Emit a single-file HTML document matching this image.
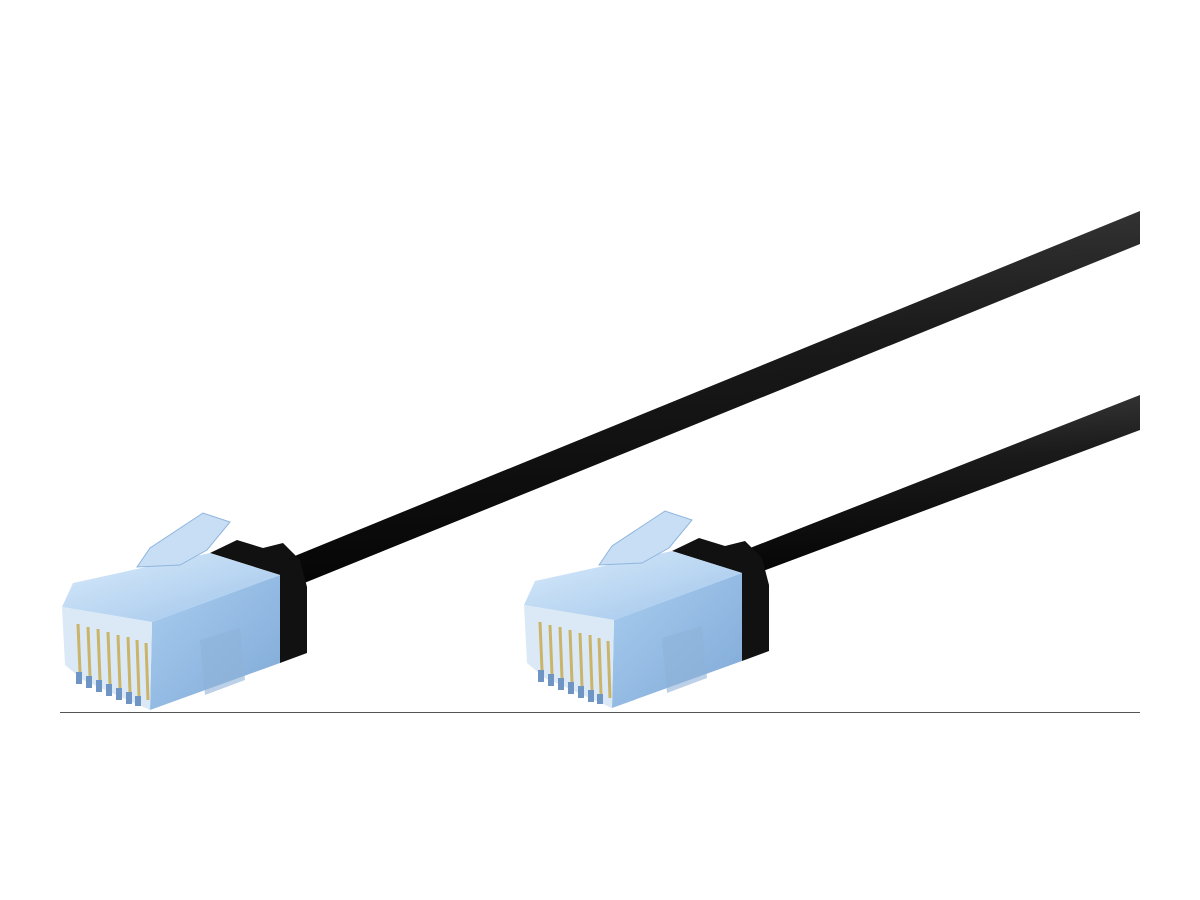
<!DOCTYPE html>
<html><head><meta charset="utf-8"><style>html,body{margin:0;padding:0;background:#fff}svg{display:block}</style></head>
<body>
<svg width="1200" height="900" viewBox="0 0 1200 900" xmlns="http://www.w3.org/2000/svg">
<defs>
<linearGradient id="cab" x1="0" y1="0" x2="0.1" y2="1">
<stop offset="0" stop-color="#3a3a3a"/><stop offset="0.4" stop-color="#1a1a1a"/><stop offset="1" stop-color="#050505"/></linearGradient>
<linearGradient id="side" x1="0" y1="0" x2="1" y2="1">
<stop offset="0" stop-color="#a9cdf0"/><stop offset="1" stop-color="#7fa9d6"/></linearGradient>
<linearGradient id="top" x1="0" y1="0" x2="1" y2="1">
<stop offset="0" stop-color="#d9ebfb"/><stop offset="1" stop-color="#9fc4ea"/></linearGradient>
<g id="con">
<polygon points="210,553 237,540 263,548 283,543 300,560 307,587 307,653 280,663 280,575" fill="#111"/>
<polygon points="152,622 280,575 280,663 150,710" fill="url(#side)"/>
<polygon points="62,607 73,583 210,553 280,575 152,622" fill="url(#top)"/>
<polygon points="62,607 152,622 150,710 83,680 65,665" fill="#dbe9f6"/>
<polygon points="137,567 150,548 203,513 230,522 207,550 180,565" fill="#c7def4" stroke="#8fb5de" stroke-width="1"/>
<polygon points="200,640 240,628 245,680 205,695" fill="#8fb2d8" opacity="0.6"/>
<g stroke-width="3">
<line x1="78" y1="624" x2="80" y2="672" stroke="#c9b46a"/>
<line x1="88" y1="627" x2="90" y2="676" stroke="#c9b46a"/>
<line x1="98" y1="629" x2="100" y2="680" stroke="#c9b46a"/>
<line x1="108" y1="632" x2="110" y2="684" stroke="#c9b46a"/>
<line x1="118" y1="635" x2="120" y2="688" stroke="#c9b46a"/>
<line x1="128" y1="637" x2="130" y2="692" stroke="#c9b46a"/>
<line x1="137" y1="640" x2="139" y2="696" stroke="#c9b46a"/>
<line x1="146" y1="643" x2="148" y2="700" stroke="#c9b46a"/>
</g>
<g fill="#6f95c4">
<rect x="76" y="672" width="6" height="12"/><rect x="86" y="676" width="6" height="12"/><rect x="96" y="680" width="6" height="12"/><rect x="106" y="684" width="6" height="12"/><rect x="116" y="688" width="6" height="12"/><rect x="126" y="692" width="6" height="12"/><rect x="135" y="696" width="6" height="10"/>
</g>
</g>
</defs>
<polygon points="280,562 1140,211 1140,244 292,588" fill="url(#cab)"/>
<polygon points="745,550 1140,395 1140,430 755,574" fill="url(#cab)"/>
<use href="#con"/>
<use href="#con" transform="translate(462,-2)"/>
<line x1="60" y1="712.5" x2="1140" y2="712.5" stroke="#555" stroke-width="1"/>
</svg>
</body></html>
